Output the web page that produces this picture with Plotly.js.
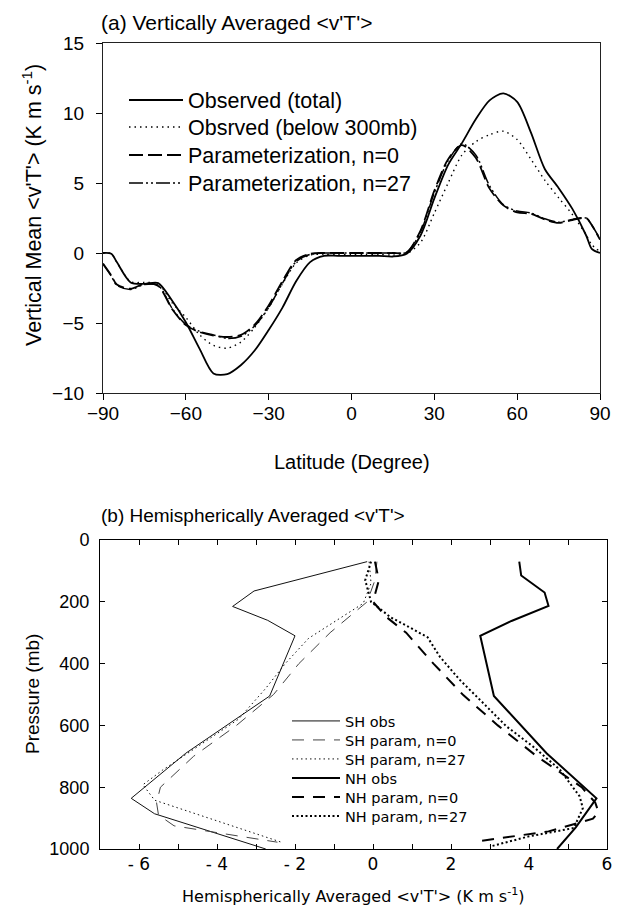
<!DOCTYPE html>
<html>
<head>
<meta charset="utf-8">
<script src="https://cdn.plot.ly/plotly-3.0.1.min.js"></script>
<style>html,body{margin:0;padding:0;background:#fff}#chart{width:623px;height:911px}</style>
</head>
<body>
<div id="chart"></div>
<script>
// ---------- Panel (a): vertically averaged <v'T'> vs latitude ----------
const latitudes = [-90,-87,-85,-80,-75,-70,-65,-60,-55,-50,-45,-40,-35,-30,-25,-20,-15,-10,-5,0,5,10,15,20,25,30,35,40,45,50,55,60,65,70,75,80,85,87,90];
const observedTotal = [0,-0.05,-0.65,-2.1,-2.2,-2.15,-3.4,-4.95,-6.85,-8.6,-8.65,-8.0,-6.95,-5.5,-3.9,-2.0,-0.65,-0.2,-0.2,-0.2,-0.2,-0.2,-0.25,-0.05,1.25,3.9,6.3,7.85,9.55,10.9,11.4,10.8,8.6,6.0,4.65,3.15,1.25,0.3,0];
const observedBelow300 = [0,-0.05,-0.65,-2.05,-2.1,-2.2,-3.55,-4.6,-5.85,-6.6,-6.8,-6.35,-5.3,-3.9,-2.2,-0.7,-0.15,-0.1,-0.1,-0.1,-0.1,-0.1,-0.15,-0.05,0.75,2.85,5.0,7.0,7.95,8.45,8.7,8.1,6.7,5.2,3.95,2.75,1.3,0.6,0.1];
const paramN0 = [-0.75,-1.6,-2.25,-2.55,-2.2,-2.35,-4.0,-5.15,-5.65,-5.9,-6.0,-5.85,-5.1,-3.75,-2.0,-0.5,-0.05,0,0,0,0,0,0,0.05,1.6,4.45,6.7,7.7,6.8,4.6,3.4,2.9,2.8,2.4,2.15,2.35,2.5,2.0,0.95];
const paramN27 = [-0.8,-1.65,-2.3,-2.6,-2.25,-2.3,-3.95,-5.1,-5.6,-5.85,-6.1,-5.95,-5.2,-3.9,-2.15,-0.6,-0.1,0,0,0,0,0,0,0.05,1.5,4.3,6.6,7.8,7.0,4.8,3.45,3.0,2.85,2.45,2.2,2.4,2.5,2.0,1.0];
const latTicks = [-90,-60,-30,0,30,60,90];
const namesA = ["Observed (total)","Obsrved (below 300mb)","Parameterization, n=0","Parameterization, n=27"];

// ---------- Panel (b): hemispherically averaged <v'T'> vs pressure ----------
const shObsP = [70,165,215,260,310,505,690,836,886,1000];
const shObsV = [-0.15,-3.05,-3.6,-2.7,-2.0,-2.65,-4.8,-6.2,-5.6,-2.75];
const shN0P = [70,130,200,300,400,500,600,700,800,850,890,925,945,978];
const shN0V = [0.1,0.05,-0.15,-1.1,-1.9,-2.55,-3.5,-4.6,-5.45,-5.55,-5.5,-5.1,-4.1,-2.45];
const shN27P = [70,140,205,318,400,480,580,670,745,792,842,978];
const shN27V = [-0.1,-0.05,-0.25,-1.65,-2.25,-2.75,-3.45,-4.5,-5.4,-5.9,-5.6,-2.35];
const nhObsP = [70,115,170,213,262,310,505,690,836,930,1000];
const nhObsV = [3.75,3.8,4.4,4.5,3.55,2.75,3.1,4.45,5.73,5.2,4.72];
const nhN0P = [70,130,200,250,300,400,500,600,700,800,850,880,902,943,976];
const nhN0V = [0.05,0.15,0.0,0.35,0.85,1.55,2.3,3.2,4.2,5.35,5.7,5.78,5.64,4.5,2.64];
const nhN27P = [70,130,200,250,280,315,377,452,517,603,668,743,830,868,932,960,992];
const nhN27V = [-0.05,-0.2,-0.05,0.45,0.9,1.4,1.71,2.22,2.74,3.42,4.1,4.79,5.3,5.38,5.15,3.97,3.0];
const namesB = ["SH obs","SH param, n=0","SH param, n=27","NH obs","NH param, n=0","NH param, n=27"];
const vtTickVals = [-6,-4,-2,0,2,4,6];
const vtTickText = ["- 6","- 4","- 2","0","2","4","6"];
const vtMinorVals = [-5,-3,-1,1,3,5];
const pressureTicks = [0,200,400,600,800,1000];

// ---------- geometry helpers ----------
const W = 623, H = 911;
const px = v => v / W;
const py = v => 1 - v / H;
const ARIAL = "Liberation Sans, Arial, sans-serif";
const VERD = "DejaVu Sans, Verdana, sans-serif";

// one legend box per entry so rows sit at the reference spacing
const rowsA = [100, 127, 155, 183];
const rowsB = [721, 740, 759, 778, 797, 816];
const legendIds = ["legend","legend2","legend3","legend4","legend5","legend6","legend7","legend8","legend9","legend10"];

const styleA = [
  {color: "#000", width: 1.8},
  {color: "#000", width: 1.4, dash: "1.5px,4px"},
  {color: "#000", width: 1.8, dash: "14px,5px"},
  {color: "#000", width: 1.5, dash: "14px,3px,2px,3px,2px,3px"}
];
const seriesA = [observedTotal, observedBelow300, paramN0, paramN27];

const styleB = [
  {color: "#111", width: 1},
  {color: "#444", width: 1, dash: "12px,9px"},
  {color: "#111", width: 1, dash: "1.5px,3px"},
  {color: "#000", width: 2},
  {color: "#000", width: 2, dash: "12px,9px"},
  {color: "#000", width: 2, dash: "2px,2.5px"}
];
const seriesB = [[shObsV, shObsP],[shN0V, shN0P],[shN27V, shN27P],[nhObsV, nhObsP],[nhN0V, nhN0P],[nhN27V, nhN27P]];

const traces = [];
seriesA.forEach((vals, i) => {
  traces.push({x: latitudes, y: vals, name: namesA[i], mode: "lines", xaxis: "x", yaxis: "y",
    legend: legendIds[i], line: Object.assign({shape: "spline", smoothing: 0.8}, styleA[i])});
});
seriesB.forEach((s, i) => {
  traces.push({x: s[0], y: s[1], name: namesB[i], mode: "lines", xaxis: "x2", yaxis: "y2",
    legend: legendIds[4 + i], line: styleB[i]});
});

const layout = {
  width: W, height: H,
  margin: {l: 0, r: 0, t: 0, b: 0},
  paper_bgcolor: "#fff", plot_bgcolor: "#fff",
  font: {family: ARIAL, color: "#000"},
  showlegend: true,
  title: {text: "(a) Vertically Averaged &lt;v'T'&gt;", x: px(101), xanchor: "left", xref: "paper",
          y: py(23), yanchor: "middle", yref: "paper", font: {family: ARIAL, size: 21, color: "#000"}},
  xaxis: {domain: [px(103), px(600)], anchor: "y", range: [-90, 90], tickvals: latTicks,
          ticks: "outside", ticklen: 6, tickcolor: "#000", showline: true, linecolor: "#222", linewidth: 1,
          mirror: true, showgrid: false, zeroline: false, tickfont: {family: ARIAL, size: 19},
          ticklabelstandoff: -3},
  yaxis: {domain: [py(393), py(43)], anchor: "x", range: [-10, 15], dtick: 5, tick0: -10,
          ticks: "outside", ticklen: 6, tickcolor: "#000", showline: true, linecolor: "#222", linewidth: 1,
          mirror: true, showgrid: false, zeroline: false, tickfont: {family: ARIAL, size: 19},
          ticklabelstandoff: 8},
  xaxis2: {domain: [px(100), px(607)], anchor: "y2", range: [-7, 6], tickvals: vtTickVals, ticktext: vtTickText,
           ticks: "inside", ticklen: 5, tickcolor: "#000", showline: true, linecolor: "#000", linewidth: 1,
           mirror: "ticks", showgrid: false, zeroline: false, tickfont: {family: VERD, size: 17},
           minor: {tickmode: "array", tickvals: vtMinorVals, ticks: "inside", ticklen: 5, tickcolor: "#000", showgrid: false}},
  yaxis2: {domain: [py(849), py(540)], anchor: "x2", range: [1000, 0], tickvals: pressureTicks,
           ticks: "inside", ticklen: 5, tickcolor: "#000", showline: true, linecolor: "#000", linewidth: 1,
           mirror: "ticks", showgrid: false, zeroline: false, tickfont: {family: ARIAL, size: 18},
           ticklabelstandoff: 6},
  annotations: [
    {text: "Vertical Mean &lt;v'T'&gt; (K m s<sup>-1</sup>)", xref: "paper", yref: "paper", x: px(32), y: py(205),
     textangle: -90, showarrow: false, xanchor: "center", yanchor: "middle", font: {family: ARIAL, size: 21.5}},
    {text: "Latitude (Degree)", xref: "paper", yref: "paper", x: px(352), y: py(462), showarrow: false,
     xanchor: "center", yanchor: "middle", font: {family: ARIAL, size: 20}},
    {text: "(b) Hemispherically Averaged &lt;v'T'&gt;", xref: "paper", yref: "paper", x: px(99), y: py(515),
     showarrow: false, xanchor: "left", yanchor: "middle", font: {family: ARIAL, size: 19}},
    {text: "Pressure (mb)", xref: "paper", yref: "paper", x: px(32), y: py(694), textangle: -90,
     showarrow: false, xanchor: "center", yanchor: "middle", font: {family: ARIAL, size: 19}},
    {text: "Hemispherically Averaged &lt;v'T'&gt; (K m s<sup>-1</sup>)", xref: "paper", yref: "paper", x: px(353), y: py(895),
     showarrow: false, xanchor: "center", yanchor: "middle", font: {family: VERD, size: 16}}
  ]
};

rowsA.forEach((r, i) => {
  layout[legendIds[i]] = {x: px(124), xanchor: "left", y: py(r), yanchor: "middle", bgcolor: "rgba(0,0,0,0)",
    borderwidth: 0, itemwidth: 54, font: {family: ARIAL, size: 21.5, color: "#000"}};
});
rowsB.forEach((r, i) => {
  layout[legendIds[4 + i]] = {x: px(287), xanchor: "left", y: py(r), yanchor: "middle", bgcolor: "rgba(0,0,0,0)",
    borderwidth: 0, itemwidth: 48, font: {family: VERD, size: 14.5, color: "#000"}};
});

Plotly.newPlot("chart", traces, layout, {staticPlot: true, displayModeBar: false});
</script>
</body>
</html>
